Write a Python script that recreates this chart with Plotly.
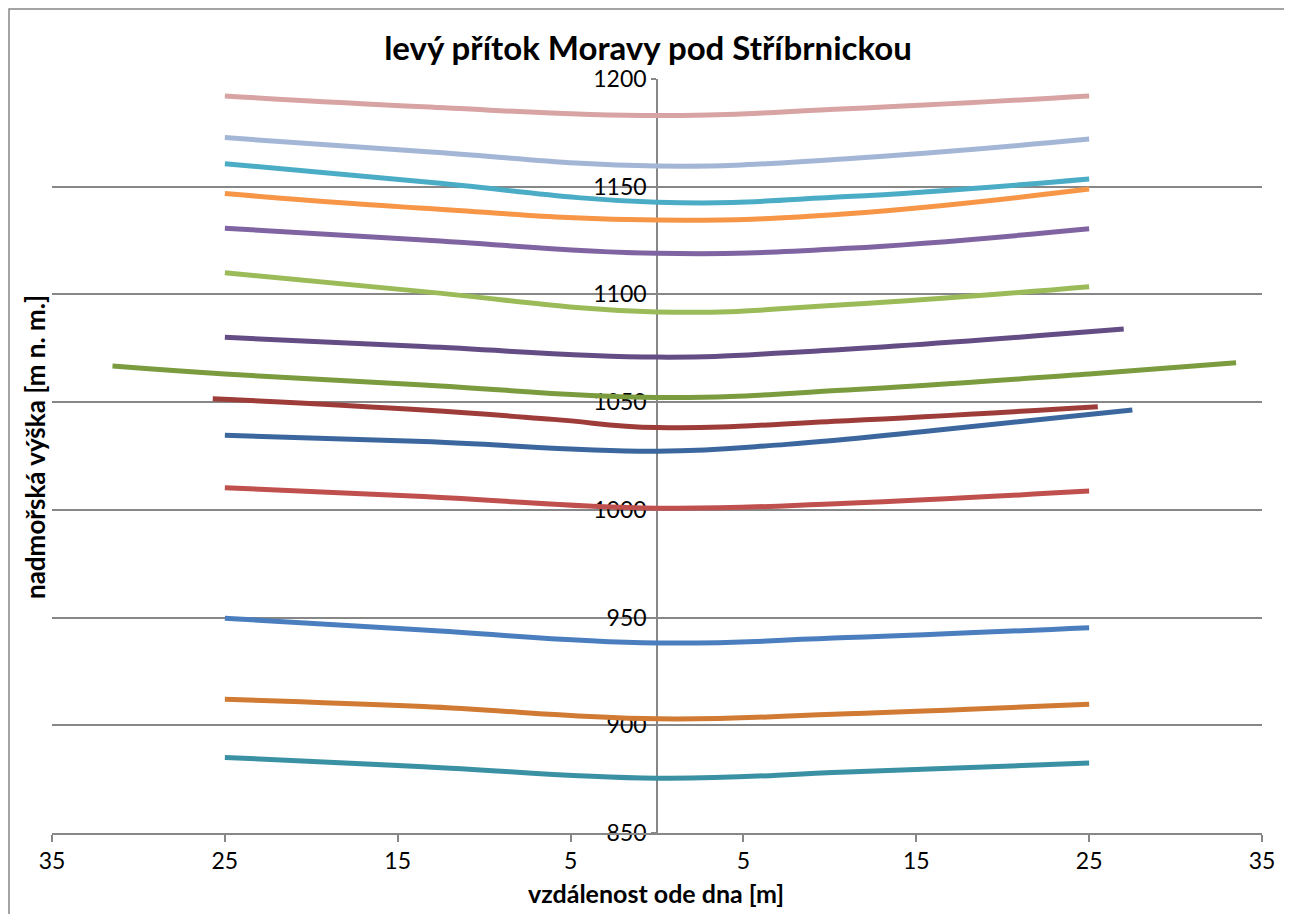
import plotly.graph_objects as go

# ---- data ----
x5 = [-25, -13.5, 0, 11, 25]

teal_y = [885.1, 880.8, 875.4, 878.3, 882.5]
darkorange_y = [912.1, 908.7, 903.0, 905.4, 909.8]
blue_y = [949.7, 944.2, 938.2, 940.7, 945.3]
red_y = [1010.3, 1006.2, 1000.8, 1003.1, 1008.7]
darkblue_x = [-25, -13.5, 0, 7.5, 16, 27.5]
darkblue_y = [1034.6, 1031.7, 1027.2, 1030.4, 1036.8, 1046.4]
darkred_x = [-25.7, -13.5, -6, 0, 11, 25.5]
darkred_y = [1051.6, 1046.3, 1042.0, 1038.2, 1041.4, 1047.9]
olive_x = [-31.5, -25, -13.5, 0, 11, 25, 33.5]
olive_y = [1066.8, 1063.1, 1058.0, 1052.2, 1055.6, 1063.1, 1068.3]
darkpurple_x = [-25, -13.5, 0, 8.5, 27]
darkpurple_y = [1080.1, 1075.8, 1070.9, 1073.4, 1083.9]
lightgreen_y = [1110.1, 1101.3, 1091.9, 1095.3, 1103.6]
purple_y = [1130.7, 1125.3, 1119.1, 1121.4, 1130.5]
orange_y = [1146.8, 1140.0, 1134.5, 1137.5, 1148.9]
cyan_y = [1160.7, 1152.3, 1142.8, 1145.4, 1153.6]
lightblue_y = [1172.8, 1166.3, 1159.6, 1163.0, 1172.1]
pink_y = [1192.1, 1187.1, 1183.0, 1186.2, 1192.1]

x_tickvals = [-35, -25, -15, -5, 5, 15, 25, 35]
x_ticktext = ["35", "25", "15", "5", "5", "15", "25", "35"]
y_tickvals = [850, 900, 950, 1000, 1050, 1100, 1150, 1200]

series = [
    (x5, teal_y, "#3A91A3"),
    (x5, darkorange_y, "#D17A33"),
    (x5, blue_y, "#4A7EBF"),
    (x5, red_y, "#C0504D"),
    (darkblue_x, darkblue_y, "#3C679E"),
    (darkred_x, darkred_y, "#9E3C3A"),
    (olive_x, olive_y, "#7B9B3F"),
    (darkpurple_x, darkpurple_y, "#644C85"),
    (x5, lightgreen_y, "#9BBB59"),
    (x5, purple_y, "#8064A2"),
    (x5, orange_y, "#F79646"),
    (x5, cyan_y, "#4BACC6"),
    (x5, lightblue_y, "#A4B6D6"),
    (x5, pink_y, "#D7A4A3"),
]

FONT = "Lato"
GRID = "#878787"

# page body has an 8px margin: compensate so the plot lands at the reference pixels
W, H = 1284, 906

fig = go.Figure()
for xs, ys, col in series:
    fig.add_trace(go.Scatter(
        x=xs, y=ys, mode="lines",
        line=dict(color=col, width=5, shape="spline", smoothing=1.2),
        showlegend=False, hoverinfo="skip",
    ))

fig.update_layout(
    width=W, height=H,
    margin=dict(l=44, r=30, t=71, b=81),
    paper_bgcolor="white", plot_bgcolor="white",
    font=dict(family=FONT, color="black"),
    showlegend=False,
    title=dict(
        text="<b>levý přítok Moravy pod Stříbrnickou</b>",
        x=(648 - 8) / W, xref="container", xanchor="center",
        y=1 - 40 / H, yref="container", yanchor="middle",
        font=dict(family=FONT, size=33, color="black"),
    ),
    xaxis=dict(
        range=[-35, 35], tickvals=x_tickvals, ticktext=x_ticktext,
        showgrid=False, zeroline=False,
        showline=True, linecolor=GRID, linewidth=1.5,
        ticks="outside", ticklen=7, tickcolor=GRID, tickwidth=1.5,
        tickfont=dict(family=FONT, size=23, color="black"),
        fixedrange=True,
    ),
    yaxis=dict(
        range=[850, 1200], tickvals=y_tickvals,
        anchor="free", position=0.5,
        showgrid=True, gridcolor=GRID, gridwidth=1.5,
        zeroline=False,
        showline=True, linecolor=GRID, linewidth=1.5,
        ticks="outside", ticklen=5, tickcolor=GRID, tickwidth=1.5,
        tickfont=dict(family=FONT, size=23, color="black"),
        ticklabelstandoff=0,
        layer="below traces",
        fixedrange=True,
    ),
    annotations=[
        dict(text="<b>vzdálenost ode dna [m]</b>", xref="paper", yref="paper",
             x=(656 - 52) / 1210, y=(833 - 893) / 754, xanchor="center", yanchor="middle",
             showarrow=False, font=dict(family=FONT, size=25, color="black")),
        dict(text="<b>nadmořská výška [m n. m.]</b>", xref="paper", yref="paper",
             x=(35 - 52) / 1210, y=(833 - 447) / 754, xanchor="center", yanchor="middle",
             textangle=-90, showarrow=False,
             font=dict(family=FONT, size=26, color="black")),
    ],
    shapes=[
        dict(type="rect", xref="paper", yref="paper",
             x0=(9 - 52) / 1210, x1=(1286 - 52) / 1210,
             y0=(833 - 925) / 754, y1=1 + (79 - 9) / 754,
             line=dict(color="#878787", width=1.5), fillcolor="rgba(0,0,0,0)",
             layer="below"),
    ],
)

fig.write_html("out.html")
